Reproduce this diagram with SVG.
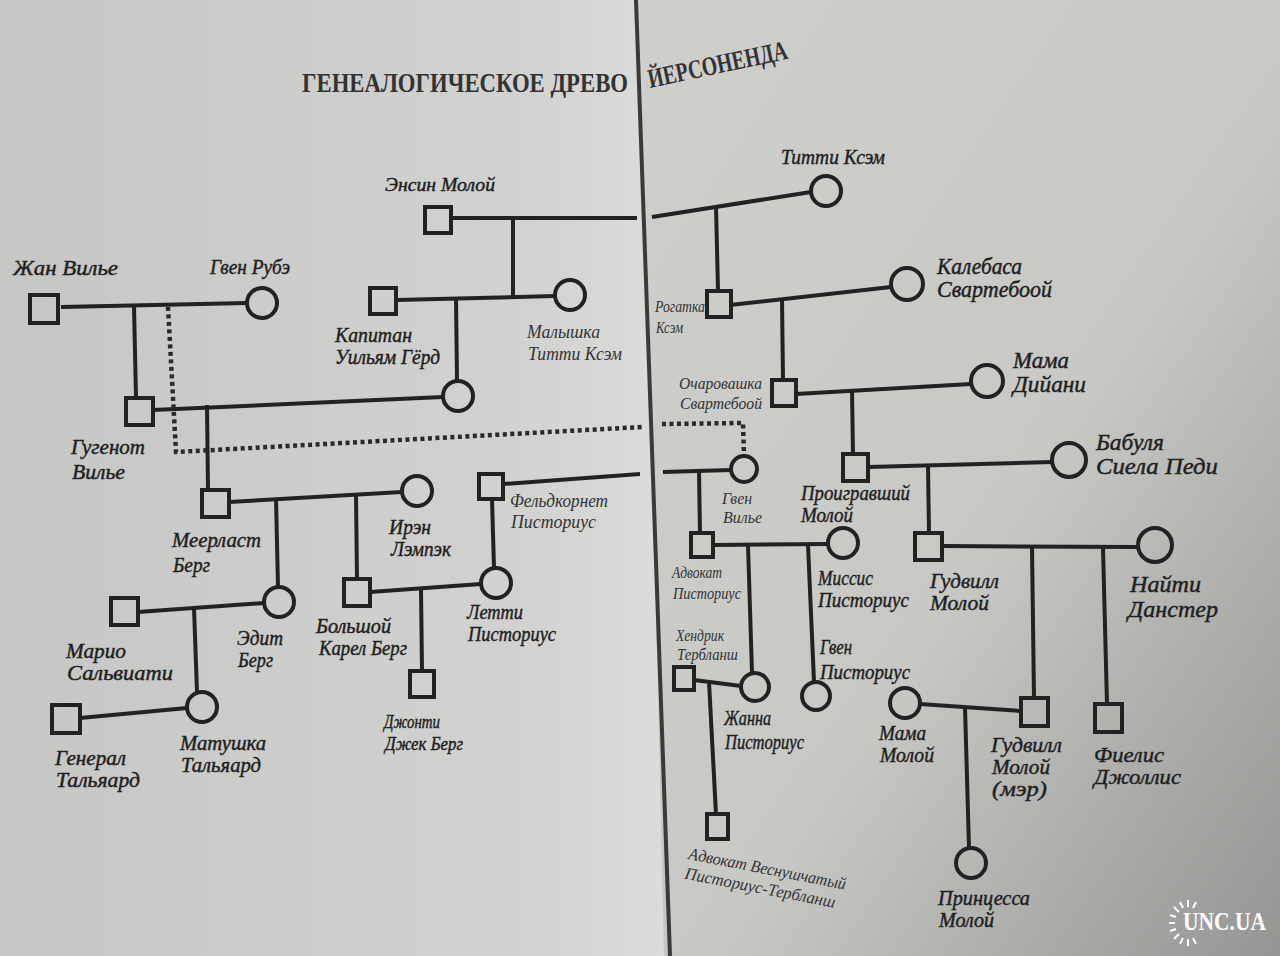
<svg xmlns="http://www.w3.org/2000/svg" width="1280" height="956" viewBox="0 0 1280 956">
<defs>
<linearGradient id="gl" x1="0" y1="0" x2="1" y2="0">
<stop offset="0" stop-color="#c6c6c4"/>
<stop offset="0.8" stop-color="#d2d2d0"/>
<stop offset="1" stop-color="#dcdcda"/>
</linearGradient>
<linearGradient id="gr" x1="0" y1="0" x2="1" y2="1">
<stop offset="0" stop-color="#cfcfcc"/>
<stop offset="0.55" stop-color="#c8c8c5"/>
<stop offset="1" stop-color="#959593"/>
</linearGradient>
<style>
.l{stroke:#222;stroke-width:4;fill:none;stroke-linecap:butt}
.d{stroke:#2a2a2a;stroke-width:4.5;fill:none;stroke-dasharray:4 3.5}
.s,.c{stroke:#222;stroke-width:4;fill:none}
.t{font-family:"Liberation Serif","DejaVu Serif",serif;font-style:italic;font-size:21px;fill:#1f1f1f;stroke:#1f1f1f;stroke-width:0.45}
.sm{font-size:16px;fill:#333;stroke:none}
.bg{font-size:23px}
.ti{font-family:"Liberation Serif","DejaVu Serif",serif;font-size:27px;font-weight:bold;fill:#333}
.wm{font-family:"Liberation Serif","DejaVu Serif",serif;font-size:25px;font-weight:bold;fill:#fff}
.ray{stroke:#fff;stroke-width:2}
</style>
</defs>
<rect width="1280" height="956" fill="#c6c6c3"/>
<polygon points="0,0 642,0 664,956 0,956" fill="url(#gl)"/>
<polygon points="638,0 1280,0 1280,956 672,956" fill="url(#gr)"/>
<path d="M636,0 L670,956" stroke="#3a3a3a" stroke-width="4" fill="none"/>

<g id="title">
<text class="ti" x="302" y="92" textLength="326" lengthAdjust="spacingAndGlyphs">ГЕНЕАЛОГИЧЕСКОЕ ДРЕВО</text>
<text class="ti" x="650" y="88" transform="rotate(-12 650 88)" textLength="142" lengthAdjust="spacingAndGlyphs">ЙЕРСОНЕНДА</text>
</g>

<g id="connectors">
<path class="l" d="M61,307 L247,303"/>
<path class="l" d="M134,306 L136,398"/>
<path class="l" d="M451,218 L637,218"/>
<path class="l" d="M513,218 L513,297"/>
<path class="l" d="M396,300 L555,296"/>
<path class="l" d="M456,298 L457,381"/>
<path class="l" d="M153,410 L443,397"/>
<path class="l" d="M207,405 L208,490"/>
<path class="l" d="M229,502 L402,492"/>
<path class="l" d="M276,498 L278,587"/>
<path class="l" d="M356,495 L357,579"/>
<path class="l" d="M503,484 L640,474"/>
<path class="l" d="M492,499 L494,568"/>
<path class="l" d="M370,592 L481,584"/>
<path class="l" d="M421,589 L422,671"/>
<path class="l" d="M138,612 L264,603"/>
<path class="l" d="M194,608 L197,692"/>
<path class="l" d="M80,718 L187,708"/>
<path class="d" d="M168,307 L176,452 L642,427"/>
<path class="d" d="M662,424 L743,423 L744,455"/>
<path class="l" d="M652,217 L811,192"/>
<path class="l" d="M716,206 L718,291"/>
<path class="l" d="M730,305 L891,287"/>
<path class="l" d="M782,300 L783,380"/>
<path class="l" d="M796,394 L971,384"/>
<path class="l" d="M852,391 L853,454"/>
<path class="l" d="M868,467 L1052,462"/>
<path class="l" d="M928,465 L929,533"/>
<path class="l" d="M663,472 L731,470"/>
<path class="l" d="M699,471 L700,533"/>
<path class="l" d="M713,545 L828,544"/>
<path class="l" d="M748,545 L752,673"/>
<path class="l" d="M808,545 L814,682"/>
<path class="l" d="M694,680 L741,686"/>
<path class="l" d="M709,682 L716,814"/>
<path class="l" d="M942,546 L1138,547"/>
<path class="l" d="M1032,547 L1034,698"/>
<path class="l" d="M1103,548 L1107,704"/>
<path class="l" d="M920,704 L1021,711"/>
<path class="l" d="M965,707 L969,848"/>
</g>

<g id="n-zhan-vilie"><rect class="s" x="30" y="295" width="28" height="28"/><text class="t" x="13" y="275" textLength="105" lengthAdjust="spacingAndGlyphs">Жан Вилье</text></g>
<g id="n-gven-rube"><circle class="c" cx="262" cy="303" r="15"/><text class="t" x="210" y="274" textLength="80" lengthAdjust="spacingAndGlyphs">Гвен Рубэ</text></g>
<g id="n-ensin-moloy"><rect class="s" x="425" y="207" width="26" height="26"/><text class="t" x="385" y="191" style="font-size:19px" textLength="110" lengthAdjust="spacingAndGlyphs">Энсин Молой</text></g>
<g id="n-kapitan"><rect class="s" x="370" y="288" width="26" height="26"/><text class="t" x="335" y="342" textLength="77" lengthAdjust="spacingAndGlyphs">Капитан</text><text class="t" x="335" y="364" textLength="105" lengthAdjust="spacingAndGlyphs">Уильям Гёрд</text></g>
<g id="n-malyshka"><circle class="c" cx="570" cy="295" r="15"/><text class="t" x="527" y="338" style="font-size:19px;fill:#333;stroke:none" textLength="73" lengthAdjust="spacingAndGlyphs">Малышка</text><text class="t" x="528" y="360" style="font-size:19px;fill:#333;stroke:none" textLength="94" lengthAdjust="spacingAndGlyphs">Титти Ксэм</text></g>
<g id="n-gerd-daughter"><circle class="c" cx="458" cy="396" r="15"/></g>
<g id="n-gugenot"><rect class="s" x="126" y="398" width="27" height="27"/><text class="t" x="71" y="454" textLength="74" lengthAdjust="spacingAndGlyphs">Гугенот</text><text class="t" x="72" y="479" textLength="53" lengthAdjust="spacingAndGlyphs">Вилье</text></g>
<g id="n-meerlast"><rect class="s" x="202" y="490" width="27" height="27"/><text class="t" x="172" y="547" textLength="89" lengthAdjust="spacingAndGlyphs">Меерласт</text><text class="t" x="173" y="572" textLength="37" lengthAdjust="spacingAndGlyphs">Берг</text></g>
<g id="n-iren"><circle class="c" cx="417" cy="491" r="15"/><text class="t" x="389" y="534" textLength="42" lengthAdjust="spacingAndGlyphs">Ирэн</text><text class="t" x="391" y="556" textLength="60" lengthAdjust="spacingAndGlyphs">Лэмпэк</text></g>
<g id="n-feldkornet"><rect class="s" x="479" y="474" width="24" height="25"/><text class="t" x="510" y="507" style="font-size:18px;fill:#333;stroke:none" textLength="98" lengthAdjust="spacingAndGlyphs">Фельдкорнет</text><text class="t" x="511" y="528" style="font-size:18px;fill:#333;stroke:none" textLength="85" lengthAdjust="spacingAndGlyphs">Писториус</text></g>
<g id="n-edit"><circle class="c" cx="279" cy="602" r="15"/><text class="t" x="237" y="645" textLength="46" lengthAdjust="spacingAndGlyphs">Эдит</text><text class="t" x="238" y="667" textLength="35" lengthAdjust="spacingAndGlyphs">Берг</text></g>
<g id="n-karel"><rect class="s" x="344" y="579" width="26" height="27"/><text class="t" x="316" y="633" style="font-size:20px" textLength="75" lengthAdjust="spacingAndGlyphs">Большой</text><text class="t" x="319" y="655" style="font-size:20px" textLength="88" lengthAdjust="spacingAndGlyphs">Карел Берг</text></g>
<g id="n-letti"><circle class="c" cx="496" cy="583" r="15"/><text class="t" x="467" y="619" textLength="56" lengthAdjust="spacingAndGlyphs">Летти</text><text class="t" x="468" y="641" textLength="88" lengthAdjust="spacingAndGlyphs">Писториус</text></g>
<g id="n-mario"><rect class="s" x="111" y="598" width="27" height="27"/><text class="t" x="66" y="658" textLength="60" lengthAdjust="spacingAndGlyphs">Марио</text><text class="t" x="67" y="680" textLength="106" lengthAdjust="spacingAndGlyphs">Сальвиати</text></g>
<g id="n-dzhonti"><rect class="s" x="410" y="671" width="24" height="26"/><text class="t" x="384" y="728" style="font-size:19px" textLength="56" lengthAdjust="spacingAndGlyphs">Джонти</text><text class="t" x="385" y="750" style="font-size:19px" textLength="78" lengthAdjust="spacingAndGlyphs">Джек Берг</text></g>
<g id="n-matushka"><circle class="c" cx="202" cy="707" r="15"/><text class="t" x="180" y="750" textLength="86" lengthAdjust="spacingAndGlyphs">Матушка</text><text class="t" x="181" y="772" textLength="80" lengthAdjust="spacingAndGlyphs">Тальяард</text></g>
<g id="n-general"><rect class="s" x="52" y="705" width="28" height="28"/><text class="t" x="55" y="765" textLength="71" lengthAdjust="spacingAndGlyphs">Генерал</text><text class="t" x="56" y="787" textLength="84" lengthAdjust="spacingAndGlyphs">Тальяард</text></g>

<g id="n-titti-ksem"><circle class="c" cx="826" cy="191" r="15"/><text class="t" x="781" y="164" textLength="104" lengthAdjust="spacingAndGlyphs">Титти Ксэм</text></g>
<g id="n-rogatka"><rect class="s" x="707" y="291" width="24" height="26"/><text class="t sm" x="655" y="312" textLength="50" lengthAdjust="spacingAndGlyphs">Рогатка</text><text class="t sm" x="656" y="333" textLength="27" lengthAdjust="spacingAndGlyphs">Ксэм</text></g>
<g id="n-kalebasa"><circle class="c" cx="907" cy="284" r="16"/><text class="t bg" x="937" y="274" textLength="85" lengthAdjust="spacingAndGlyphs">Калебаса</text><text class="t bg" x="937" y="297" textLength="115" lengthAdjust="spacingAndGlyphs">Свартебоой</text></g>
<g id="n-ocharovashka"><rect class="s" x="772" y="380" width="24" height="26"/><text class="t sm" x="679" y="389" textLength="83" lengthAdjust="spacingAndGlyphs">Очаровашка</text><text class="t sm" x="680" y="409" textLength="82" lengthAdjust="spacingAndGlyphs">Свартебоой</text></g>
<g id="n-mama-diyani"><circle class="c" cx="987" cy="381" r="16"/><text class="t bg" x="1013" y="368" textLength="56" lengthAdjust="spacingAndGlyphs">Мама</text><text class="t bg" x="1013" y="392" textLength="73" lengthAdjust="spacingAndGlyphs">Дийани</text></g>
<g id="n-proigravshiy"><rect class="s" x="843" y="454" width="25" height="27"/><text class="t" x="801" y="500" textLength="109" lengthAdjust="spacingAndGlyphs">Проигравший</text><text class="t" x="801" y="522" textLength="52" lengthAdjust="spacingAndGlyphs">Молой</text></g>
<g id="n-babulya"><circle class="c" cx="1069" cy="460" r="17"/><text class="t bg" x="1096" y="450" textLength="68" lengthAdjust="spacingAndGlyphs">Бабуля</text><text class="t bg" x="1096" y="474" textLength="122" lengthAdjust="spacingAndGlyphs">Сиела Педи</text></g>
<g id="n-gven-vilie"><circle class="c" cx="744" cy="469" r="13"/><text class="t sm" x="722" y="504" textLength="30" lengthAdjust="spacingAndGlyphs">Гвен</text><text class="t sm" x="723" y="523" textLength="39" lengthAdjust="spacingAndGlyphs">Вилье</text></g>
<g id="n-advokat-pistorius"><rect class="s" x="691" y="533" width="22" height="24"/><text class="t sm" x="672" y="578" textLength="50" lengthAdjust="spacingAndGlyphs">Адвокат</text><text class="t sm" x="673" y="599" textLength="68" lengthAdjust="spacingAndGlyphs">Писториус</text></g>
<g id="n-missis-pistorius"><circle class="c" cx="843" cy="543" r="15"/><text class="t" x="818" y="585" textLength="55" lengthAdjust="spacingAndGlyphs">Миссис</text><text class="t" x="818" y="607" textLength="91" lengthAdjust="spacingAndGlyphs">Писториус</text></g>
<g id="n-goodwill-moloy"><rect class="s" x="915" y="533" width="27" height="27"/><text class="t" x="930" y="588" textLength="69" lengthAdjust="spacingAndGlyphs">Гудвилл</text><text class="t" x="930" y="610" textLength="59" lengthAdjust="spacingAndGlyphs">Молой</text></g>
<g id="n-nayti-danster"><circle class="c" cx="1155" cy="545" r="17"/><text class="t bg" x="1130" y="592" textLength="71" lengthAdjust="spacingAndGlyphs">Найти</text><text class="t bg" x="1128" y="617" textLength="90" lengthAdjust="spacingAndGlyphs">Данстер</text></g>
<g id="n-hendrik"><rect class="s" x="674" y="667" width="20" height="23"/><text class="t sm" x="676" y="641" textLength="48" lengthAdjust="spacingAndGlyphs">Хендрик</text><text class="t sm" x="677" y="660" textLength="61" lengthAdjust="spacingAndGlyphs">Тербланш</text></g>
<g id="n-gven-pistorius"><circle class="c" cx="816" cy="696" r="14"/><text class="t" x="820" y="654" textLength="32" lengthAdjust="spacingAndGlyphs">Гвен</text><text class="t" x="820" y="679" textLength="90" lengthAdjust="spacingAndGlyphs">Писториус</text></g>
<g id="n-zhanna"><circle class="c" cx="755" cy="687" r="14"/><text class="t" x="724" y="725" textLength="47" lengthAdjust="spacingAndGlyphs">Жанна</text><text class="t" x="725" y="749" textLength="79" lengthAdjust="spacingAndGlyphs">Писториус</text></g>
<g id="n-advokat-vesnushchatiy"><rect class="s" x="707" y="814" width="21" height="25"/><g transform="rotate(11 688 858)"><text class="t sm" x="688" y="859" style="font-size:17px" textLength="160" lengthAdjust="spacingAndGlyphs">Адвокат Веснушчатый</text><text class="t sm" x="688" y="879" style="font-size:17px" textLength="153" lengthAdjust="spacingAndGlyphs">Писториус-Тербланш</text></g></g>
<g id="n-mama-moloy"><circle class="c" cx="905" cy="703" r="15"/><text class="t" x="879" y="740" textLength="47" lengthAdjust="spacingAndGlyphs">Мама</text><text class="t" x="880" y="762" textLength="54" lengthAdjust="spacingAndGlyphs">Молой</text></g>
<g id="n-goodwill-mer"><rect class="s" x="1021" y="698" width="27" height="28"/><text class="t" x="991" y="752" textLength="71" lengthAdjust="spacingAndGlyphs">Гудвилл</text><text class="t" x="992" y="774" textLength="58" lengthAdjust="spacingAndGlyphs">Молой</text><text class="t" x="992" y="796" textLength="55" lengthAdjust="spacingAndGlyphs">(мэр)</text></g>
<g id="n-fielis"><rect class="s" x="1095" y="704" width="27" height="28"/><text class="t" x="1094" y="762" textLength="70" lengthAdjust="spacingAndGlyphs">Фиелис</text><text class="t" x="1094" y="784" textLength="87" lengthAdjust="spacingAndGlyphs">Джоллис</text></g>
<g id="n-princessa"><circle class="c" cx="971" cy="863" r="15"/><text class="t" x="938" y="905" style="font-size:20px" textLength="92" lengthAdjust="spacingAndGlyphs">Принцесса</text><text class="t" x="939" y="927" style="font-size:20px" textLength="55" lengthAdjust="spacingAndGlyphs">Молой</text></g>

<g id="watermark">
<g class="ray">
<path d="M1188,900 L1188,907"/><path d="M1180,902 L1183,908"/><path d="M1196,902 L1193,908"/>
<path d="M1174,907 L1179,912"/><path d="M1170,915 L1176,917"/><path d="M1169,923 L1175,923"/>
<path d="M1170,931 L1176,929"/><path d="M1174,939 L1179,934"/><path d="M1180,944 L1183,938"/>
<path d="M1188,946 L1188,939"/><path d="M1196,944 L1193,938"/>
</g>
<text class="wm" x="1183" y="930" textLength="83" lengthAdjust="spacingAndGlyphs">UNC.UA</text>
</g>
</svg>
